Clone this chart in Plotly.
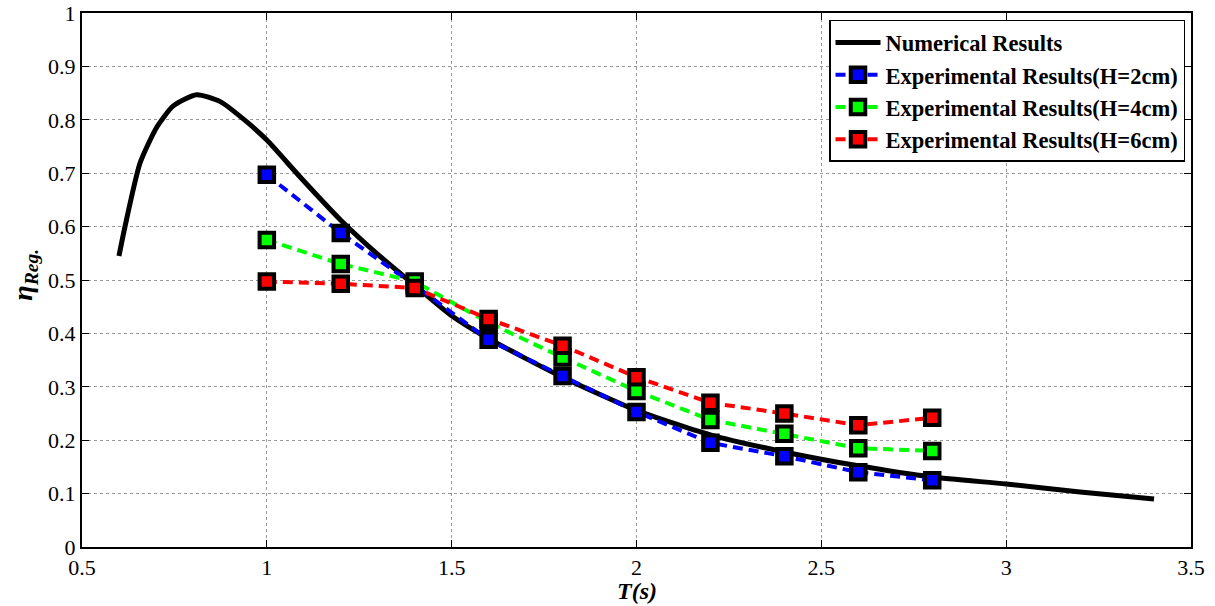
import plotly.graph_objects as go

# Numerical curve
T_num = [0.6, 0.616, 0.657, 0.703, 0.747, 0.81, 0.874, 0.946, 1.0, 1.09, 1.2, 1.3, 1.4, 1.5, 1.6, 1.8, 2.0, 2.2, 2.4, 2.6, 2.8, 3.0, 3.2, 3.4]
eta_num = [0.545, 0.599, 0.719, 0.787, 0.826, 0.847, 0.834, 0.796, 0.762, 0.693, 0.612, 0.548, 0.49, 0.433, 0.39, 0.318, 0.256, 0.21, 0.178, 0.152, 0.131, 0.118, 0.103, 0.09]

# Experimental
T_exp = [1.0, 1.2, 1.4, 1.6, 1.8, 2.0, 2.2, 2.4, 2.6, 2.8]
eta_h2 = [0.697, 0.588, 0.49, 0.388, 0.32, 0.253, 0.195, 0.17, 0.14, 0.125]
eta_h4 = [0.575, 0.53, 0.497, 0.42, 0.355, 0.292, 0.238, 0.212, 0.185, 0.18]
eta_h6 = [0.497, 0.493, 0.485, 0.427, 0.377, 0.318, 0.27, 0.25, 0.228, 0.242]

xticks = [0.5, 1, 1.5, 2, 2.5, 3, 3.5]
yticks = [0, 0.1, 0.2, 0.3, 0.4, 0.5, 0.6, 0.7, 0.8, 0.9, 1]

FONT = "Liberation Serif, Times New Roman, serif"

fig = go.Figure()
fig.add_trace(go.Scatter(x=T_num, y=eta_num, mode="lines", name="<b>Numerical Results</b>",
                         line=dict(color="black", width=5, shape="spline", smoothing=0.6)))
for name, ys, col in [("Experimental Results(H=2cm)", eta_h2, "#0000ff"),
                      ("Experimental Results(H=4cm)", eta_h4, "#00ff00"),
                      ("Experimental Results(H=6cm)", eta_h6, "#ff0000")]:
    fig.add_trace(go.Scatter(x=T_exp, y=ys, mode="lines+markers", name="<b>" + name + "</b>",
                             line=dict(color=col, width=4, dash="10px,6px"),
                             marker=dict(symbol="square", size=14.5, color=col,
                                         line=dict(color="black", width=4))))

grid = dict(showgrid=True, gridcolor="#999", griddash="dot", gridwidth=1)
fig.update_xaxes(range=[0.5, 3.5], tickvals=xticks, ticktext=[("%g" % v) for v in xticks],
                 ticks="inside", ticklen=7, tickcolor="black", showline=True, linecolor="black",
                 linewidth=2, mirror="ticks", zeroline=False, automargin=False,
                 ticklabeloverflow="allow",
                 tickfont=dict(family=FONT, size=22, color="black"),
                 **grid)
fig.update_yaxes(range=[0, 1], tickvals=yticks, ticktext=[("%g" % v) for v in yticks],
                 ticks="inside", ticklen=7, tickcolor="black", showline=True, linecolor="black",
                 linewidth=2, mirror="ticks", zeroline=False, automargin=False,
                 ticklabeloverflow="allow",
                 tickfont=dict(family=FONT, size=22, color="black"),
                 **grid)
fig.add_annotation(text="<b><i>T(s)</i></b>", xref="paper", yref="paper", x=0.5, y=-0.082,
                   xanchor="center", yanchor="middle", showarrow=False,
                   font=dict(family=FONT, size=24, color="black"))
fig.add_annotation(text="<b><i>η<sub>Reg.</sub></i></b>", xref="paper", yref="paper",
                   x=-0.0514, y=0.51, xanchor="center", yanchor="middle", showarrow=False,
                   textangle=-90, font=dict(family=FONT, size=28, color="black"))
fig.update_layout(width=1215, height=606, margin=dict(l=82, r=24, t=13, b=59),
                  plot_bgcolor="white", paper_bgcolor="white",
                  font=dict(family=FONT, color="black"),
                  legend=dict(x=0.9946, y=0.987, xanchor="right", yanchor="top",
                              bgcolor="white", bordercolor="black", borderwidth=1.5,
                              font=dict(family=FONT, size=22.5, color="black"),
                              tracegroupgap=0, itemwidth=45),
                  showlegend=True)
fig.write_html("out.html", config={"displayModeBar": False},
               post_script="document.body.style.margin='0';")
